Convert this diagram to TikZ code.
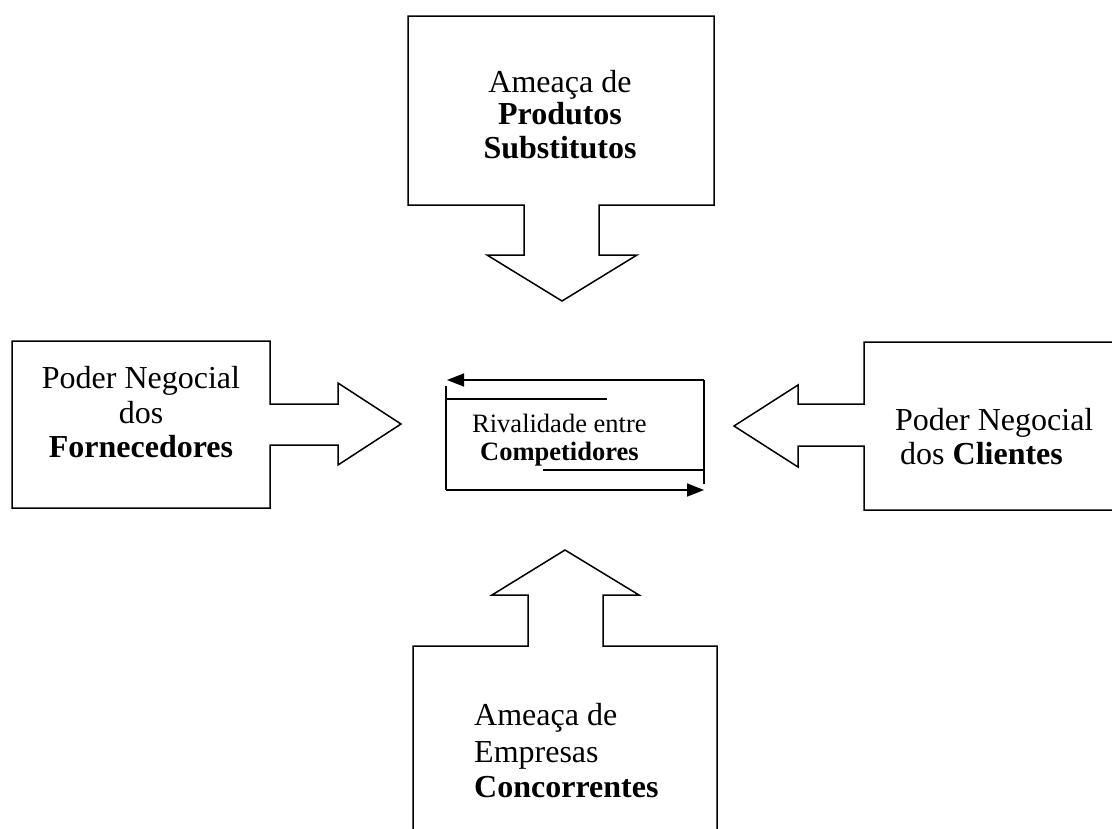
\documentclass[tikz,border=0pt]{standalone}
\usepackage{fontspec}
\setmainfont{Liberation Serif}
\usetikzlibrary{arrows.meta}

\tikzset{
  callout/.style={draw=black, line width=1.5pt, line join=miter, fill=white},
  flow/.style={draw=black, line width=1.6pt},
  flowtip/.style={-{Triangle[length=17pt,width=13pt]}},
  big/.style={inner sep=0pt, font=\fontsize{32}{35}\selectfont},
  small/.style={inner sep=0pt, font=\fontsize{26.5}{30}\selectfont},
}

\begin{document}
\begin{tikzpicture}[x=1pt, y=-1pt]
  \useasboundingbox (0,0) rectangle (1112,828);
  \clip (0,0) rectangle (1112,828);
  \fill[white] (0,0) rectangle (1112,828);

  % top force: substitute products, pointing down
  \draw[callout] (408,16) -- (714,16) -- (714,205) -- (599,205) -- (599,255)
    -- (637,255) -- (562,301) -- (487,255) -- (524,255) -- (524,205)
    -- (408,205) -- cycle;
  \node[big, anchor=base] (subA) at (560,92) {Ameaça de};
  \node[big, anchor=base] (subB) at (560,124) {\textbf{Produtos}};
  \node[big, anchor=base] (subC) at (560,158) {\textbf{Substitutos}};

  % left force: suppliers, pointing right
  \draw[callout] (12,341) -- (270,341) -- (270,404) -- (338,404) -- (338,383)
    -- (401,424) -- (338,465) -- (338,445) -- (270,445) -- (270,508)
    -- (12,508) -- cycle;
  \node[big, anchor=base] (supA) at (141,388) {Poder Negocial};
  \node[big, anchor=base] (supB) at (141,423) {dos};
  \node[big, anchor=base] (supC) at (141,457) {\textbf{Fornecedores}};

  % right force: clients, pointing left
  \draw[callout] (1130,342) -- (864,342) -- (864,404) -- (798,404) -- (798,385)
    -- (734,426) -- (798,467) -- (798,446) -- (864,446) -- (864,510)
    -- (1130,510) -- cycle;
  \node[big, anchor=base west] (cliA) at (895,430) {Poder Negocial};
  \node[big, anchor=base west] (cliB) at (900,464) {dos \textbf{Clientes}};

  % bottom force: competing firms, pointing up
  \draw[callout] (413,850) -- (413,646) -- (528,646) -- (528,595) -- (492,595)
    -- (565,550) -- (639,595) -- (603,595) -- (603,646) -- (717,646)
    -- (717,850) -- cycle;
  \node[big, anchor=base west] (entA) at (474,725) {Ameaça de};
  \node[big, anchor=base west] (entB) at (474,762) {Empresas};
  \node[big, anchor=base west] (entC) at (474,797) {\textbf{Concorrentes}};

  % centre: rivalry loop
  \coordinate (tr) at (704,380);
  \coordinate (tl) at (447,380);
  \coordinate (rb) at (704,484);
  \coordinate (lt) at (446,386);
  \coordinate (lb) at (446,490);
  \coordinate (br) at (704,490);
  \coordinate (ua) at (446,399);
  \coordinate (ub) at (607,399);
  \coordinate (la) at (543,470);
  \coordinate (lr) at (704,470);
  \draw[flow, flowtip] (tr) -- (tl);
  \draw[flow] (tr) -- (rb);
  \draw[flow] (lt) -- (lb);
  \draw[flow] (ua) -- (ub);
  \draw[flow] (la) -- (lr);
  \draw[flow, flowtip] (lb) -- (br);
  \node[small, anchor=base west] (rivA) at (472,432) {Rivalidade entre};
  \node[small, anchor=base west] (rivB) at (480,460) {\textbf{Competidores}};
\end{tikzpicture}
\end{document}
